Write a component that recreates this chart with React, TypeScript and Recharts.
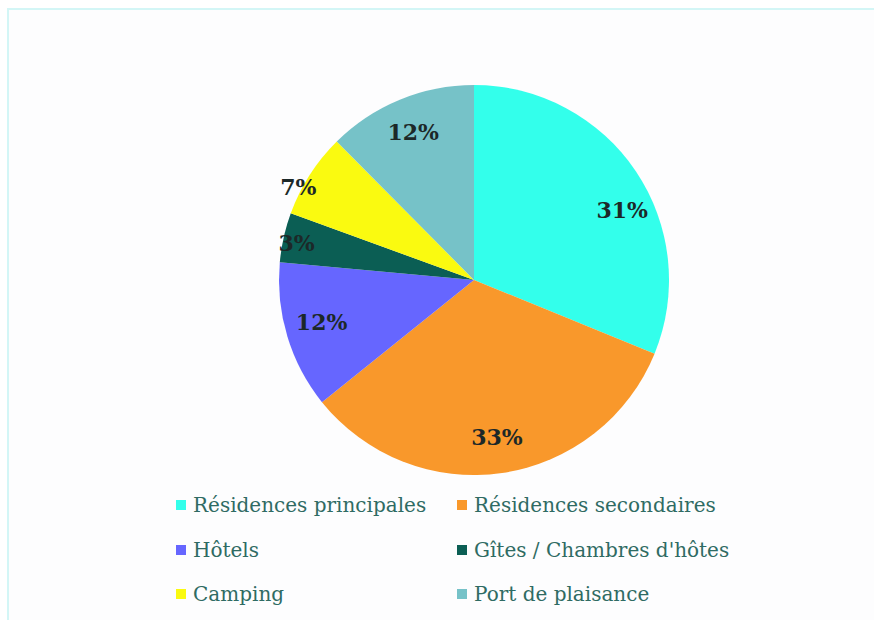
import React from "react";
import { PieChart, Pie, Cell, Legend } from "recharts";

const categories = [
  "Résidences principales",
  "Résidences secondaires",
  "Hôtels",
  "Gîtes / Chambres d'hôtes",
  "Camping",
  "Port de plaisance",
];
const shares = [31.1, 33.0, 12.2, 4.1, 7.0, 12.4];
const shareLabels = ["31%", "33%", "12%", "3%", "7%", "12%"];
const colors = ["#33FFEB", "#F9982B", "#6666FF", "#0B5E54", "#FAFA10", "#76C2C8"];

// label placement tweaks (radius ratio, angle offset in degrees)
const labelRatio = [0.84, 0.815, 0.81, 0.93, 1.02, 0.82];
const labelShift = [-8.7, 0, -1.5, 0.8, 4.7, 0];

const data = categories.map((name, i) => ({ name, value: shares[i], label: shareLabels[i] }));

const RAD = Math.PI / 180;
const FONT = "'DejaVu Serif', serif";

const renderLabel = (props: any) => {
  const { cx, cy, midAngle, outerRadius, index } = props;
  const a = (midAngle + labelShift[index]) * RAD;
  const r = outerRadius * labelRatio[index];
  const x = cx + r * Math.cos(-a);
  const y = cy + r * Math.sin(-a);
  return (
    <text
      x={x}
      y={y}
      textAnchor="middle"
      dominantBaseline="central"
      fill="#1C2828"
      fontFamily={FONT}
      fontWeight="bold"
      fontSize={22}
    >
      {data[index].label}
    </text>
  );
};

const LegendContent = () => {
  const colX = [176, 457];
  const rowY = [505, 550, 594];
  return (
    <div style={{ position: "relative", width: 874, height: 140 }}>
      {categories.map((name, i) => {
        const col = i % 2;
        const row = Math.floor(i / 2);
        return (
          <div
            key={name}
            style={{
              position: "absolute",
              left: colX[col],
              top: rowY[row] - 480 - 12,
              height: 24,
              display: "flex",
              alignItems: "center",
              whiteSpace: "nowrap",
            }}
          >
            <span
              style={{
                display: "inline-block",
                width: 10,
                height: 10,
                background: colors[i],
                marginRight: 7,
              }}
            />
            <span style={{ fontFamily: FONT, fontSize: 20, color: "#2F6B63" }}>{name}</span>
          </div>
        );
      })}
    </div>
  );
};

export default function App() {
  return (
    <div style={{ position: "absolute", left: 0, top: 0, width: 874, height: 620, background: "#FFFFFF" }}>
      <div
        style={{
          position: "absolute",
          left: 7,
          top: 8,
          width: 867,
          height: 612,
          borderTop: "2px solid #D3F6F6",
          borderLeft: "2px solid #D3F6F6",
          boxSizing: "border-box",
          background: "#FDFDFE",
        }}
      />
      <div style={{ position: "absolute", left: 0, top: 0 }}>
        <PieChart width={874} height={620} margin={{ top: 0, right: 0, bottom: 0, left: 0 }}>
          <Pie
            data={data}
            dataKey="value"
            nameKey="name"
            cx={474}
            cy={280}
            outerRadius={195}
            startAngle={90}
            endAngle={-270}
            stroke="none"
            label={renderLabel}
            labelLine={false}
            isAnimationActive={false}
          >
            {data.map((d, i) => (
              <Cell key={d.name} fill={colors[i]} />
            ))}
          </Pie>
          <Legend
            content={<LegendContent />}
            wrapperStyle={{ position: "absolute", left: 0, top: 480, width: 874, height: 140 }}
          />
        </PieChart>
      </div>
    </div>
  );
}
